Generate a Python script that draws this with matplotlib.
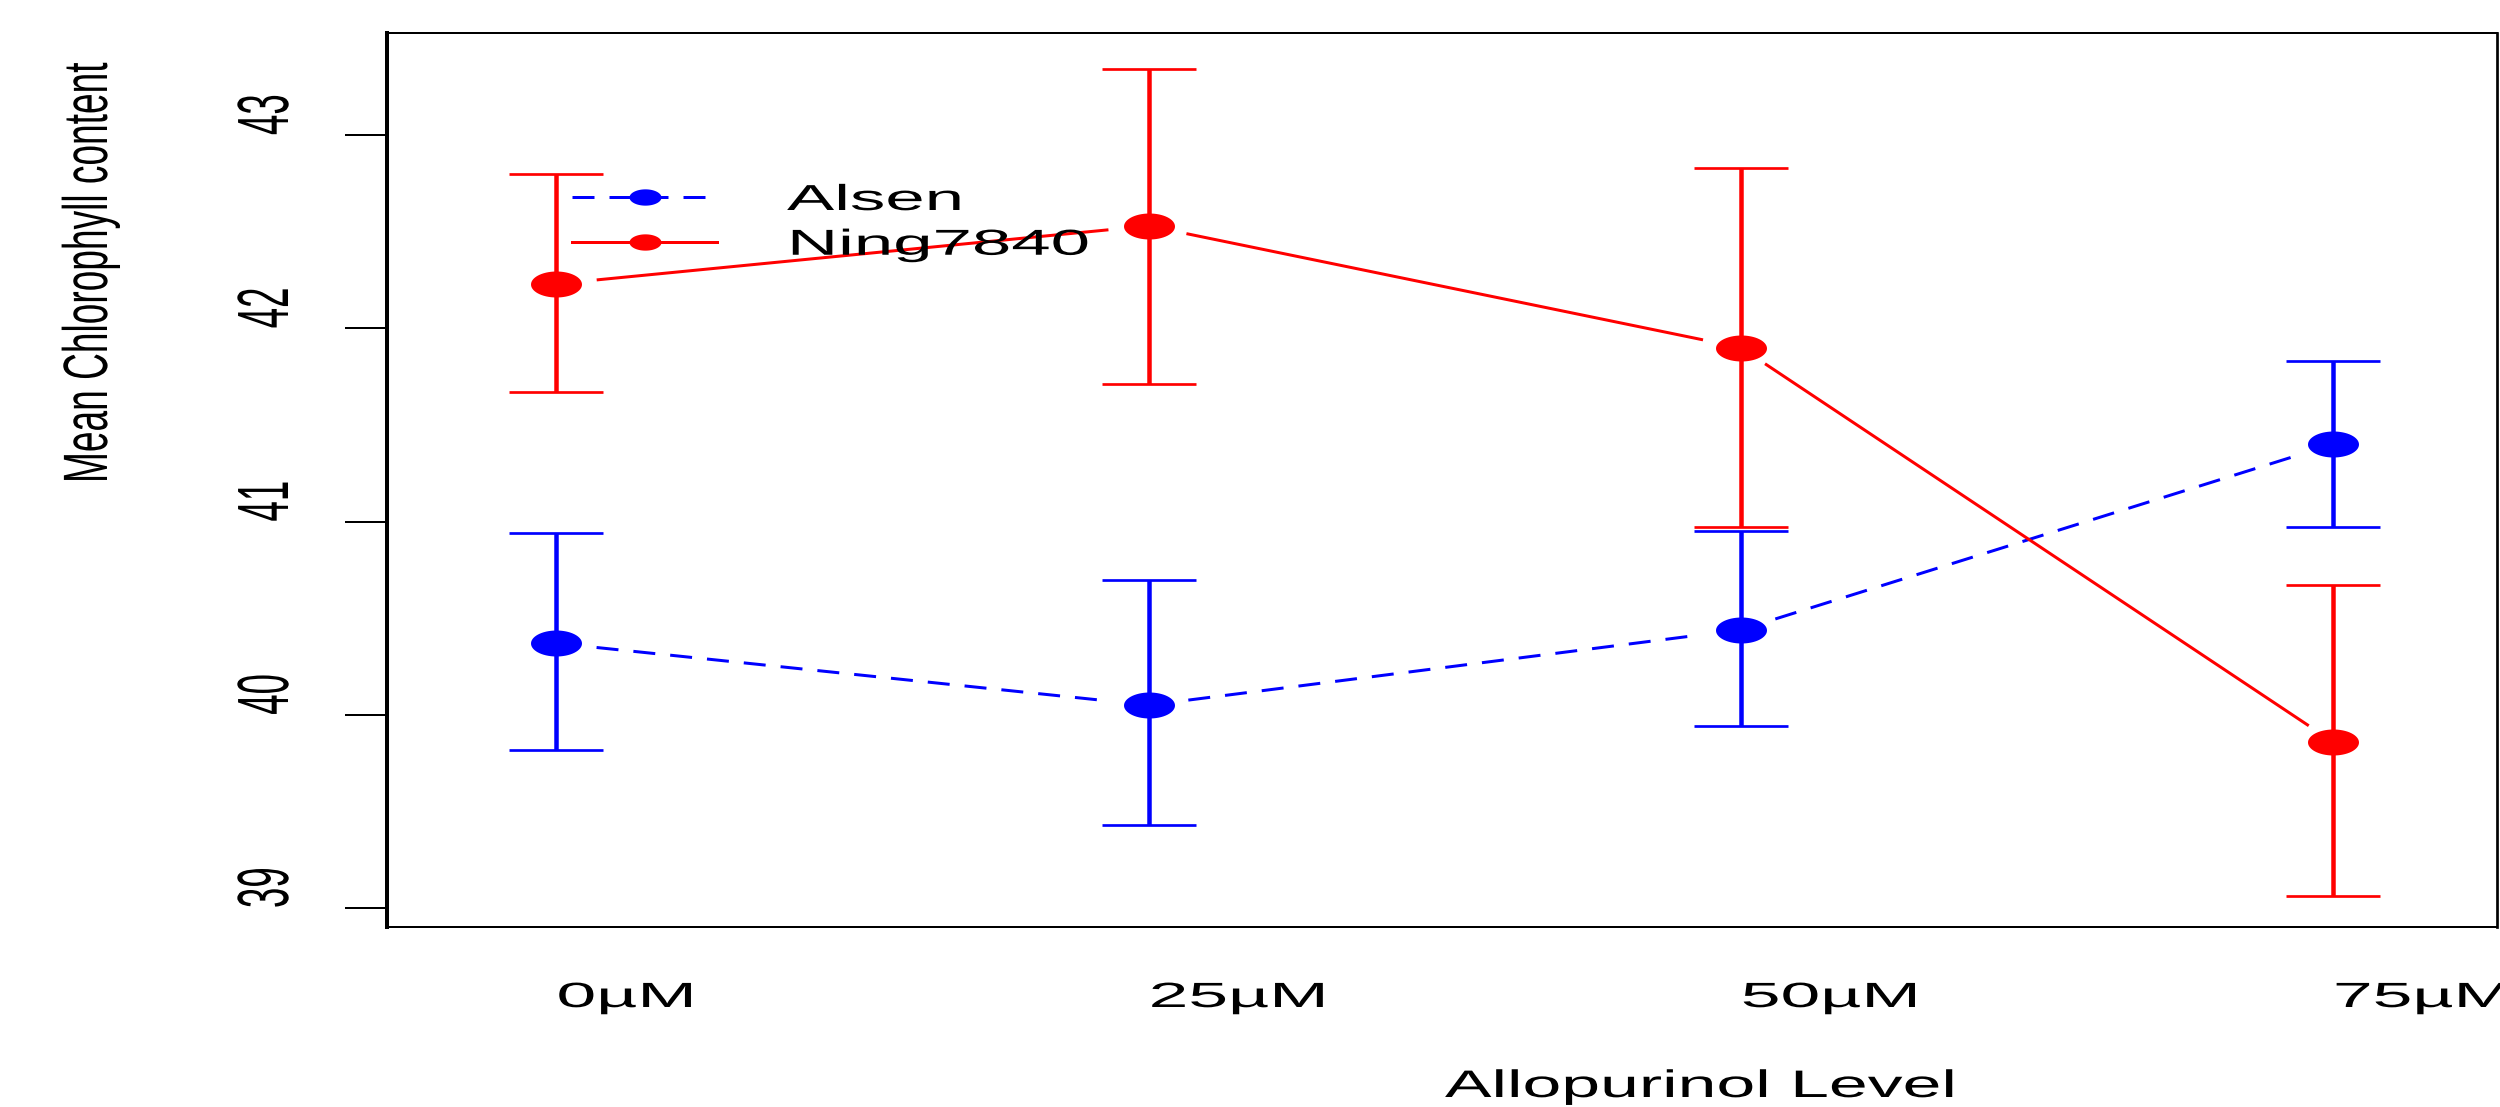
import numpy as np
import matplotlib
matplotlib.use('Agg')
import matplotlib.pyplot as plt
from matplotlib.path import Path
from matplotlib.patheffects import AbstractPathEffect
from matplotlib.transforms import Affine2D, blended_transform_factory
from matplotlib.lines import Line2D

# ---------------- data ----------------
levels = ['0µM', '25µM', '50µM', '75µM']
series = ['Alsen', 'Ning7840']
alsen_mean = [40.37, 40.05, 40.44, 41.40]
alsen_low = [39.82, 39.43, 39.94, 40.97]
alsen_high = [40.94, 40.70, 40.95, 41.83]
ning_mean = [42.23, 42.53, 41.90, 39.86]
ning_low = [41.67, 41.71, 40.97, 39.06]
ning_high = [42.80, 43.34, 42.83, 40.67]
yticks = [39, 40, 41, 42, 43]
xlabel = 'Allopurinol Level'
ylabel = 'Mean Chlorophyll content'

BLUE = '#0000FF'
RED = '#FF0000'
PT = 0.72  # points per pixel at dpi 100

plt.rcParams['font.family'] = ['Liberation Sans', 'DejaVu Sans']
plt.rcParams['lines.scale_dashes'] = False


class Stretch(AbstractPathEffect):
    """Scale glyph outlines about the text origin (start / baseline)."""
    def __init__(self, sx=1.0, sy=1.0):
        super().__init__()
        self.sx, self.sy = sx, sy

    def draw_path(self, renderer, gc, tpath, affine, rgbFace=None):
        pre = Affine2D().scale(self.sx, self.sy)
        renderer.draw_path(gc, tpath, pre + affine, rgbFace)


# ellipse marker (wide)
t = np.linspace(0, 2 * np.pi, 64)
ELL = Path(np.column_stack([np.cos(t), 0.51 * np.sin(t)]), closed=True)

fig = plt.figure(figsize=(25, 11.07), dpi=100)
fig.patch.set_facecolor('white')
ax = fig.add_axes([387 / 2500, (1107 - 927) / 1107, 2110 / 2500, 894 / 1107])
ax.set_xlim(-0.2862, 3.277)
ax.set_ylim(38.902, 43.528)

x = np.arange(len(levels))

GAP_A, GAP_B = 41.0, 20.0


def gapped_line(xs, ys, color, **kw):
    pts = ax.transData.transform(np.column_stack([xs, ys]))
    inv = ax.transData.inverted()
    for p0, p1 in zip(pts[:-1], pts[1:]):
        d = p1 - p0
        f = 1.0 / np.sqrt((d[0] / GAP_A) ** 2 + (d[1] / GAP_B) ** 2)
        q = inv.transform(np.array([p0 + d * f, p1 - d * f]))
        ax.plot(q[:, 0], q[:, 1], color=color, solid_capstyle='butt',
                dash_capstyle='butt', **kw)


groups = [
    (alsen_mean, alsen_low, alsen_high, BLUE, dict(lw=3 * PT, linestyle=(0, (22 * PT, 15 * PT)))),
    (ning_mean, ning_low, ning_high, RED, dict(lw=3 * PT, linestyle='-')),
]
for mean, lo, hi, col, lkw in groups:
    m = np.array(mean)
    yerr = [m - np.array(lo), np.array(hi) - m]
    ax.errorbar(x, m, yerr=yerr, fmt='none', ecolor=col, elinewidth=4.5 * PT,
                capsize=47.5 * PT, capthick=2.7 * PT, zorder=2)
    ax.plot(x, m, linestyle='none', marker=ELL, markersize=51 * PT,
            color=col, markeredgewidth=0, zorder=3)
    gapped_line(x, m, col, zorder=2, **lkw)

# legend
h_a = Line2D([], [], color=BLUE, lw=3 * PT, linestyle=(0, (22 * PT, 15 * PT)),
             marker=ELL, markersize=32 * PT, markeredgewidth=0)
h_n = Line2D([], [], color=RED, lw=3 * PT, linestyle='-',
             marker=ELL, markersize=32 * PT, markeredgewidth=0)
FS_LEG = 26
fs_px = FS_LEG / PT
leg = ax.legend([h_a, h_n], series, loc='upper left',
                bbox_to_anchor=(572 / 2500, 1 - 183 / 1107),
                bbox_transform=fig.transFigure, frameon=False, borderpad=0,
                borderaxespad=0, handlelength=145 / fs_px,
                handletextpad=(787 - 717) / fs_px, labelspacing=0.27,
                numpoints=1, prop={'size': FS_LEG})
for txt in leg.get_texts():
    txt.set_path_effects([Stretch(1.96, 1.0)])

# y axis ticks
ax.set_yticks(yticks, [str(v) for v in yticks])
ax.tick_params(axis='y', length=42 * PT, width=2 * PT, pad=57 * PT,
               labelsize=26.4, direction='out')
for lab in ax.get_yticklabels():
    lab.set(rotation=90, rotation_mode='anchor', ha='left', va='baseline')
    lab.set_path_effects([Stretch(1.0, 1.98)])

# x axis ticks
ax.set_xticks(x, levels)
ax.tick_params(axis='x', length=0, pad=80 * PT, labelsize=25.2)
for lab in ax.get_xticklabels():
    lab.set(ha='left', va='baseline')
    lab.set_path_effects([Stretch(2.04, 1.0)])

# axis labels
ax.set_ylabel(ylabel, fontsize=26.7, rotation=90, rotation_mode='anchor',
              ha='left', va='baseline')
ax.yaxis.set_label_coords(107 / 2500, (927 - 483) / 894,
                          transform=blended_transform_factory(fig.transFigure, ax.transAxes))
ax.yaxis.label.set_path_effects([Stretch(1.0, 1.69)])

ax.set_xlabel(xlabel, fontsize=27.6, ha='left', va='baseline')
ax.xaxis.set_label_coords(0.5014, 10 / 1107,
                          transform=blended_transform_factory(ax.transAxes, fig.transFigure))
ax.xaxis.label.set_path_effects([Stretch(1.82, 1.0)])

# spines
ax.spines['left'].set_linewidth(4 * PT)
ax.spines['right'].set_linewidth(2.7 * PT)
ax.spines['top'].set_linewidth(2 * PT)
ax.spines['bottom'].set_linewidth(2 * PT)
for s in ax.spines.values():
    s.set_color('black')

fig.savefig('out.png', dpi=100, facecolor='white')
